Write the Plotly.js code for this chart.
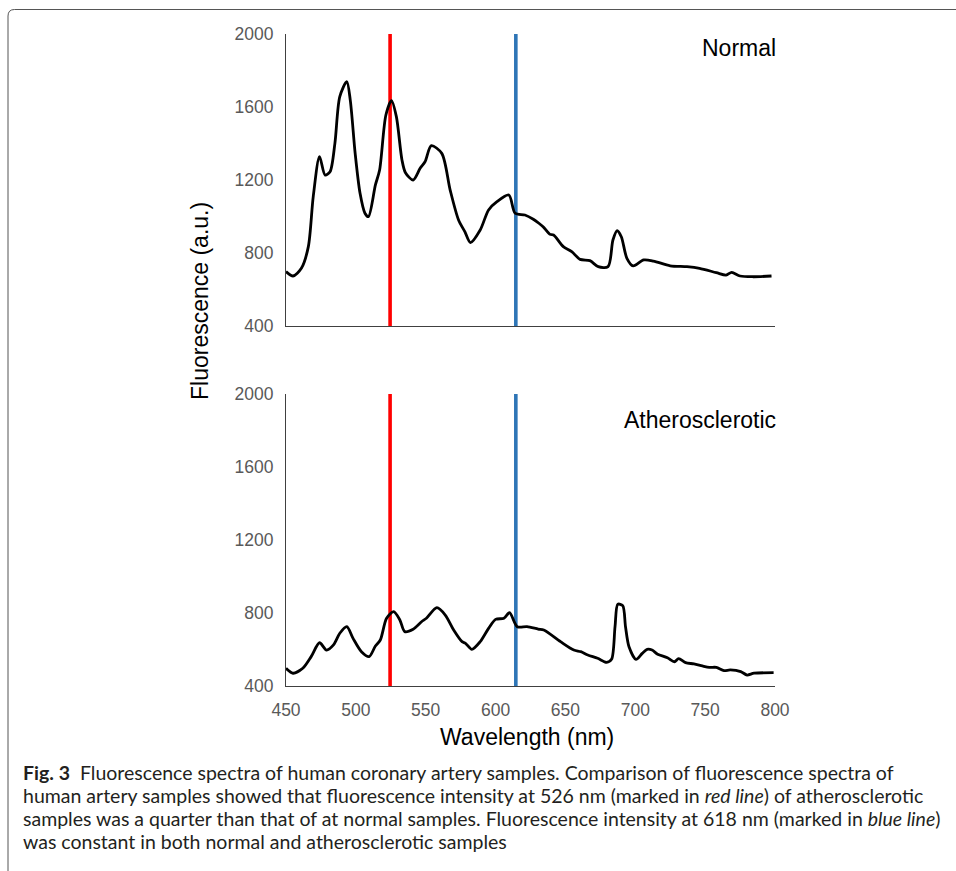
<!DOCTYPE html>
<html>
<head>
<meta charset="utf-8">
<script src="https://cdn.plot.ly/plotly-3.0.1.min.js"></script>
<style>
  html, body { margin: 0; padding: 0; background: #fff; }
  #chart { width: 956px; height: 871px; }
</style>
</head>
<body>
<div id="chart"></div>
<script>
// ---- Data ----
const normalWavelength = [450,455,461,466,469.5,474,478,481.5,485,488.5,493.5,496,499.5,503,506.5,509,514,517,521.5,525.5,529,533,535.5,541,546,549.5,554,561.5,567.5,573.5,578,582,589,595,601,609.5,614,621,627,631,634,639,641.5,648.5,654.5,660.5,667.5,673.5,680.5,684,687,690,694,698.5,706,713,725,737,746,758,765,769,775,784.5,797.5];
const normalIntensity  = [698,674,716,835,1109,1328,1227,1245,1401,1657,1739,1638,1346,1127,1018,999,1173,1255,1556,1635,1547,1310,1240,1200,1264,1300,1388,1346,1145,981,917,857,926,1036,1081,1118,1018,1008,985,963,944,902,899,835,807,765,758,725,725,871,922,889,771,729,762,756,730,725,716,692,679,694,674,670,674];

const atheroWavelength = [450,455,462,468,474,479,484,488.5,493.5,498,504,509.5,514,517.5,522,527,531.5,535,541,547,550.5,558,564,570,576,578.5,583,589,595,600,606,610,615.5,622.5,630.5,634.5,646.5,656,661,666,673,679.5,683,685.5,687.5,691,693,695.5,700.5,705,708.5,712,716,723,728,731,736,742,748,753,758,763.5,768,775.5,780,785,799];
const atheroIntensity  = [497,470,497,561,637,597,625,689,725,661,588,561,619,652,771,807,762,698,711,752,771,829,789,707,643,634,601,643,716,765,771,802,725,725,712,707,643,597,588,570,552,530,546,725,848,840,725,615,546,579,601,597,574,555,533,550,528,521,510,502,502,484,488,479,460,470,473];

const markerWavelengths = [524.5, 614.5];   // red line, blue line
const yTickValues = [400, 800, 1200, 1600, 2000];
const xTickValues = [450, 500, 550, 600, 650, 700, 750, 800];
const panelLabels = ["Normal", "Atherosclerotic"];
const yTitle = "Fluorescence (a.u.)";
const xTitle = "Wavelength (nm)";
const captionLines = [
  "<b>Fig. 3</b>  Fluorescence spectra of human coronary artery samples. Comparison of fluorescence spectra of",
  "human artery samples showed that fluorescence intensity at 526 nm (marked in <i>red line</i>) of atherosclerotic",
  "samples was a quarter than that of at normal samples. Fluorescence intensity at 618 nm (marked in <i>blue line</i>)",
  "was constant in both normal and atherosclerotic samples"
];

// ---- Layout helpers (pixel -> paper) ----
const W = 956, H = 871;
const px = x => x / W;
const py = y => 1 - y / H;

const markerColors = ["#ff0000", "#2e75b6"];
const traces = [];
// Marker lines (drawn first, curves on top)
[["x2","y2"],["x","y"]].forEach(([xa, ya]) => {
  markerWavelengths.forEach((wl, i) => {
    traces.push({
      x: [wl, wl], y: [yTickValues[0], yTickValues[yTickValues.length-1]],
      xaxis: xa, yaxis: ya, mode: "lines", hoverinfo: "skip", showlegend: false,
      line: { color: markerColors[i], width: 3.6 }
    });
  });
});
traces.push({
  x: normalWavelength, y: normalIntensity, xaxis: "x2", yaxis: "y2",
  mode: "lines", showlegend: false,
  line: { color: "#000", width: 2.8, shape: "spline", smoothing: 0.8 }
});
traces.push({
  x: atheroWavelength, y: atheroIntensity, xaxis: "x", yaxis: "y",
  mode: "lines", showlegend: false,
  line: { color: "#000", width: 2.8, shape: "spline", smoothing: 0.8 }
});

const tickFont = { family: "Liberation Sans, Arial, sans-serif", size: 17.5, color: "#595959" };
const axisCommon = {
  showgrid: false, zeroline: false, showline: true, linecolor: "#404040", linewidth: 1,
  ticks: "outside", ticklen: 8, tickcolor: "rgba(0,0,0,0)", tickfont: tickFont, fixedrange: true
};

const xDomain = [px(286), px(775)];
const layout = {
  width: W, height: H,
  margin: { l: 0, r: 0, t: 0, b: 0 },
  paper_bgcolor: "#fff", plot_bgcolor: "rgba(0,0,0,0)",
  xaxis: Object.assign({}, axisCommon, { domain: xDomain, range: [450, 800], anchor: "y",
    tickvals: xTickValues, ticktext: xTickValues.map(String) }),
  yaxis: Object.assign({}, axisCommon, { domain: [py(686), py(394)], range: [400, 2000], anchor: "x",
    tickvals: yTickValues, ticktext: yTickValues.map(String) }),
  xaxis2: Object.assign({}, axisCommon, { domain: xDomain, range: [450, 800], anchor: "y2",
    showticklabels: false, ticks: "" }),
  yaxis2: Object.assign({}, axisCommon, { domain: [py(326), py(34)], range: [400, 2000], anchor: "x2",
    tickvals: yTickValues, ticktext: yTickValues.map(String) }),
  shapes: [{
    type: "path", xref: "paper", yref: "paper", layer: "below",
    path: `M ${px(8)},${py(880)} L ${px(8)},${py(16)} Q ${px(8)},${py(9.5)} ${px(14.5)},${py(9.5)} L ${px(970)},${py(9.5)}`,
    line: { color: "#555", width: 1 }
  }],
  annotations: []
};

const labelFont = { family: "Liberation Sans, Arial, sans-serif", size: 23, color: "#000" };
layout.annotations.push({ text: panelLabels[0], xref: "paper", yref: "paper", x: px(778), y: py(48),
  xanchor: "right", yanchor: "middle", showarrow: false, font: labelFont });
layout.annotations.push({ text: panelLabels[1], xref: "paper", yref: "paper", x: px(778), y: py(420),
  xanchor: "right", yanchor: "middle", showarrow: false, font: labelFont });
layout.annotations.push({ text: yTitle, xref: "paper", yref: "paper", x: px(200), y: py(301),
  xanchor: "center", yanchor: "middle", textangle: -90, showarrow: false, font: labelFont });
layout.annotations.push({ text: xTitle, xref: "paper", yref: "paper", x: px(527), y: py(737),
  xanchor: "center", yanchor: "middle", showarrow: false, font: labelFont });

const captionFont = { family: "Lato, 'Open Sans', sans-serif", size: 19.5, color: "#231f20" };
const captionY = [772, 795, 818, 841];
captionLines.forEach((t, i) => {
  layout.annotations.push({ text: t, xref: "paper", yref: "paper", x: px(22), y: py(captionY[i]),
    xanchor: "left", yanchor: "middle", align: "left", showarrow: false, font: captionFont, borderpad: 0 });
});

Plotly.newPlot("chart", traces, layout, { staticPlot: true, displayModeBar: false });
</script>
</body>
</html>
